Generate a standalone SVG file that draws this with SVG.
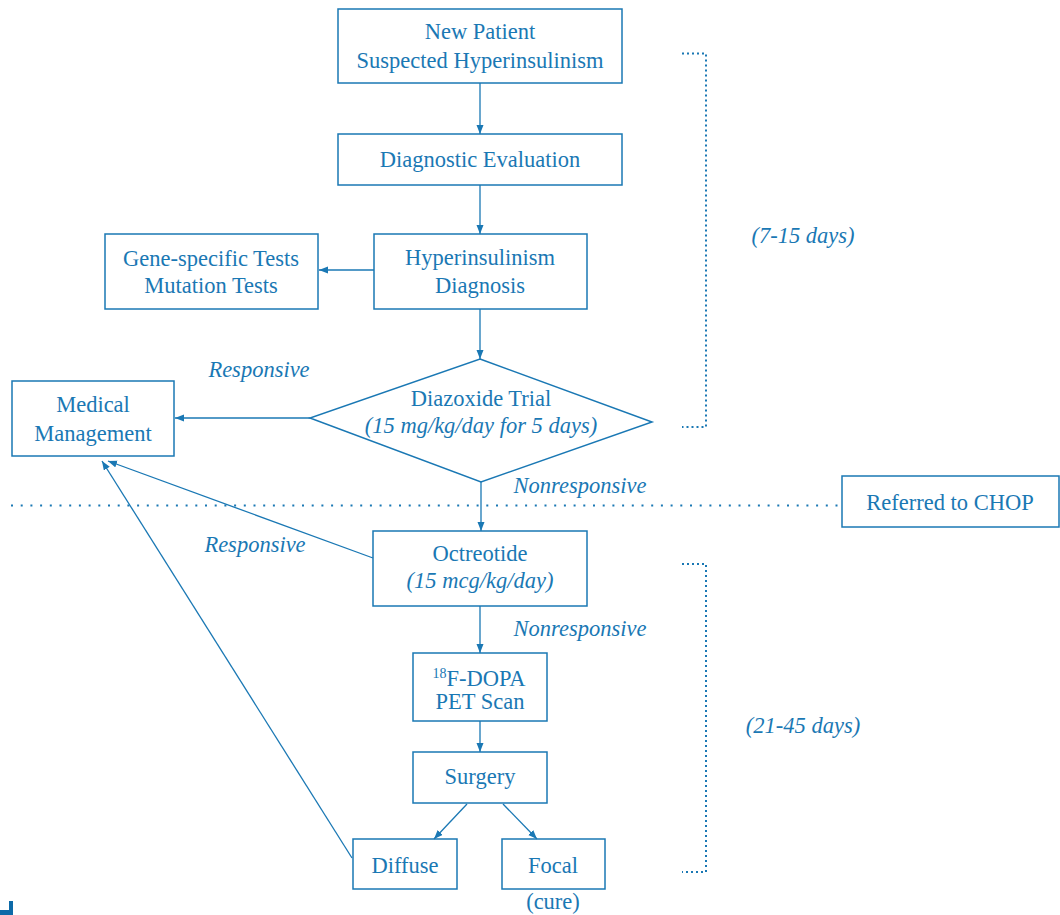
<svg xmlns="http://www.w3.org/2000/svg" width="1060" height="915" viewBox="0 0 1060 915">
<defs>
<style>
.box{fill:none;stroke:#1a78b4;stroke-width:1.5}
.t{font-family:'Liberation Serif','Times New Roman',serif;font-size:22.5px;fill:#1a78b4;text-anchor:middle}
.i{font-style:italic}
.c{stroke:#1a78b4;stroke-width:1.3;fill:none;marker-end:url(#ah)}
.dot{stroke:#1a78b4;stroke-width:2;fill:none}
</style>
<marker id="ah" markerUnits="userSpaceOnUse" markerWidth="10" markerHeight="8" refX="9" refY="3.5" orient="auto">
<path d="M0,0 L9,3.5 L0,7 z" fill="#1a78b4"/>
</marker>
</defs>
<rect width="1060" height="915" fill="#ffffff"/>

<g id="connectors">
<line class="c" x1="480" y1="83" x2="480" y2="134"/>
<line class="c" x1="480" y1="185" x2="480" y2="234"/>
<line class="c" x1="374" y1="270" x2="319" y2="270"/>
<line class="c" x1="480" y1="309" x2="480" y2="359"/>
<line class="c" x1="310" y1="418" x2="175" y2="418"/>
<line class="c" x1="481" y1="482" x2="481" y2="531"/>
<line class="c" x1="373" y1="558" x2="108" y2="461"/>
<line class="c" x1="480" y1="606" x2="480" y2="653"/>
<line class="c" x1="480" y1="721" x2="480" y2="752"/>
<line class="c" x1="467" y1="804" x2="434" y2="839"/>
<line class="c" x1="503" y1="804" x2="537" y2="839"/>
<line class="c" x1="352" y1="858" x2="102" y2="461"/>
</g>

<g id="separators">
<line class="dot" x1="11" y1="505.5" x2="842" y2="505.5" stroke-dasharray="2 7.7"/>
<polyline class="dot" points="682,53.5 706,53.5 706,427 682,427" stroke-dasharray="2 3"/>
<polyline class="dot" points="682,564 706,564 706,872 682,872" stroke-dasharray="2 3"/>
<path d="M9,901 H13 V915 H0 V910 H9 Z" fill="#0d6aa8"/>
</g>

<g id="labels">
<text class="t i" x="259" y="377">Responsive</text>
<text class="t i" x="255" y="552">Responsive</text>
<text class="t i" x="580" y="493">Nonresponsive</text>
<text class="t i" x="580" y="636">Nonresponsive</text>
<text class="t i" x="803" y="243">(7-15 days)</text>
<text class="t i" x="803" y="733">(21-45 days)</text>
<text class="t" x="553" y="909">(cure)</text>
</g>

<g id="new-patient">
<rect class="box" x="338" y="9" width="284" height="74"/>
<text class="t" x="480" y="39">New Patient</text>
<text class="t" x="480" y="68">Suspected Hyperinsulinism</text>
</g>

<g id="diagnostic-evaluation">
<rect class="box" x="338" y="134" width="284" height="51"/>
<text class="t" x="480" y="167">Diagnostic Evaluation</text>
</g>

<g id="hi-diagnosis">
<rect class="box" x="374" y="234" width="213" height="75"/>
<text class="t" x="480" y="265">Hyperinsulinism</text>
<text class="t" x="480" y="293">Diagnosis</text>
</g>

<g id="gene-tests">
<rect class="box" x="105" y="234" width="213" height="75"/>
<text class="t" x="211" y="266">Gene-specific Tests</text>
<text class="t" x="211" y="293">Mutation Tests</text>
</g>

<g id="diazoxide-trial">
<polygon class="box" points="480,359 652,422 481,482 310,418"/>
<text class="t" x="481" y="406">Diazoxide Trial</text>
<text class="t i" x="481" y="433">(15 mg/kg/day for 5 days)</text>
</g>

<g id="medical-management">
<rect class="box" x="12" y="381" width="162" height="75"/>
<text class="t" x="93" y="412">Medical</text>
<text class="t" x="93" y="441">Management</text>
</g>

<g id="referred-chop">
<rect class="box" x="842" y="476" width="217" height="51"/>
<text class="t" x="950" y="510">Referred to CHOP</text>
</g>

<g id="octreotide">
<rect class="box" x="373" y="531" width="214" height="75"/>
<text class="t" x="480" y="561">Octreotide</text>
<text class="t i" x="480" y="588">(15 mcg/kg/day)</text>
</g>

<g id="fdopa-pet">
<rect class="box" x="413" y="653" width="134" height="68"/>
<text class="t" x="479" y="686"><tspan font-size="14" dy="-8">18</tspan><tspan dy="8">F-DOPA</tspan></text>
<text class="t" x="480" y="709">PET Scan</text>
</g>

<g id="surgery">
<rect class="box" x="413" y="752" width="134" height="51"/>
<text class="t" x="480" y="784">Surgery</text>
</g>

<g id="diffuse">
<rect class="box" x="353" y="839" width="104" height="50"/>
<text class="t" x="405" y="873">Diffuse</text>
</g>

<g id="focal">
<rect class="box" x="502" y="839" width="103" height="50"/>
<text class="t" x="553" y="873">Focal</text>
</g>
</svg>
